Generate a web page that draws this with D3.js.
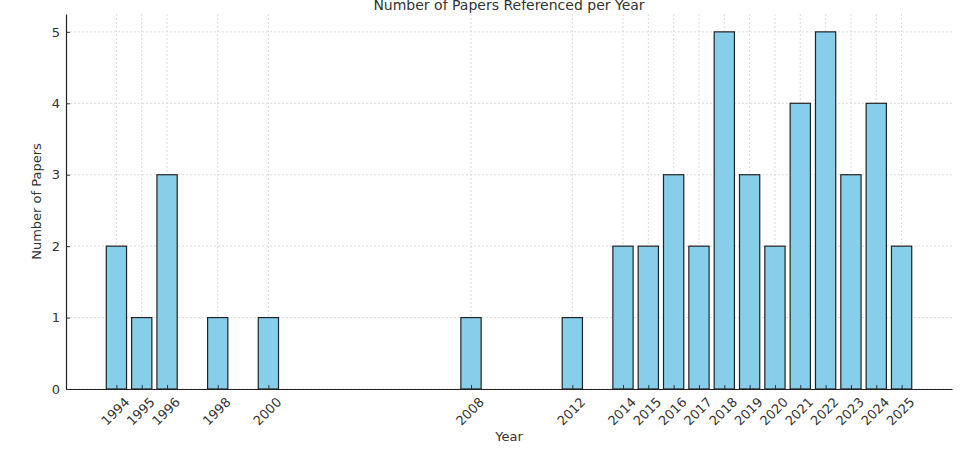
<!DOCTYPE html>
<html>
<head>
<meta charset="utf-8">
<script src="https://cdn.jsdelivr.net/npm/d3@7"></script>
<style>
  body { margin: 0; background: #fff; }
  text { font-family: "DejaVu Sans", sans-serif; fill: #333; }
</style>
</head>
<body>
<div id="chart"></div>
<script>
var years = [1994, 1995, 1996, 1998, 2000, 2008, 2012, 2014, 2015, 2016, 2017, 2018, 2019, 2020, 2021, 2022, 2023, 2024, 2025];
var papers = [2, 1, 3, 1, 1, 1, 1, 2, 2, 3, 2, 5, 3, 2, 4, 5, 3, 4, 2];
var yTicks = [0, 1, 2, 3, 4, 5];

var margin = {top: 14, right: 18, bottom: 61, left: 66};
var width = 970 - margin.left - margin.right;
var height = 450 - margin.top - margin.bottom;

var svg = d3.select("#chart").append("svg").attr("width", 970).attr("height", 450)
  .append("g").attr("transform", "translate(" + margin.left + "," + margin.top + ")");

var x = d3.scaleLinear().domain([1992.01, 2026.99]).range([0, width]);
var y = d3.scaleLinear().domain([0, 5.25]).range([height, 0]);
var bw = x(1994.4) - x(1993.6);

// grid
svg.selectAll(".vgrid").data(years).join("line").attr("class", "vgrid")
  .attr("x1", d => x(d)).attr("x2", d => x(d)).attr("y1", 0).attr("y2", height)
  .attr("stroke", "#d0d0d0").attr("stroke-dasharray", "2,2").attr("stroke-width", 0.8);
svg.selectAll(".hgrid").data(yTicks).join("line").attr("class", "hgrid")
  .attr("x1", 0).attr("x2", width).attr("y1", d => y(d)).attr("y2", d => y(d))
  .attr("stroke", "#d0d0d0").attr("stroke-dasharray", "2,2").attr("stroke-width", 0.8);

// bars
svg.selectAll(".bar").data(years).join("rect").attr("class", "bar")
  .attr("x", d => x(d) - bw / 2)
  .attr("y", (d, i) => y(papers[i]))
  .attr("width", bw)
  .attr("height", (d, i) => height - y(papers[i]))
  .attr("fill", "#87ceeb").attr("stroke", "#222").attr("stroke-width", 1.2);

// axes
var xAxis = svg.append("g").attr("transform", "translate(0," + height + ")")
  .call(d3.axisBottom(x).tickValues(years).tickFormat(d3.format("d")).tickSizeInner(-4).tickSizeOuter(0).tickPadding(8));
xAxis.select(".domain").attr("stroke", "#222").attr("stroke-width", 1.2);
xAxis.selectAll(".tick line").attr("stroke", "#333");
xAxis.selectAll(".tick text")
  .style("font-size", "13px").style("font-family", "DejaVu Sans")
  .attr("text-anchor", "middle").attr("dy", "0")
  .attr("transform", "translate(-4,20) rotate(-45)");

var yAxis = svg.append("g")
  .call(d3.axisLeft(y).tickValues(yTicks).tickFormat(d3.format("d")).tickSizeInner(-4).tickSizeOuter(0).tickPadding(6));
yAxis.select(".domain").attr("stroke", "#222").attr("stroke-width", 1.2);
yAxis.selectAll(".tick line").attr("stroke", "#333");
yAxis.selectAll(".tick text").style("font-size", "13px").style("font-family", "DejaVu Sans");

// labels
svg.append("text").attr("x", width / 2).attr("y", -4).attr("text-anchor", "middle")
  .style("font-size", "14px").text("Number of Papers Referenced per Year");
svg.append("text").attr("x", width / 2).attr("y", height + 52).attr("text-anchor", "middle")
  .style("font-size", "13px").text("Year");
svg.append("text").attr("transform", "rotate(-90)").attr("x", -height / 2).attr("y", -25)
  .attr("text-anchor", "middle").style("font-size", "13px").text("Number of Papers");
</script>
</body>
</html>
